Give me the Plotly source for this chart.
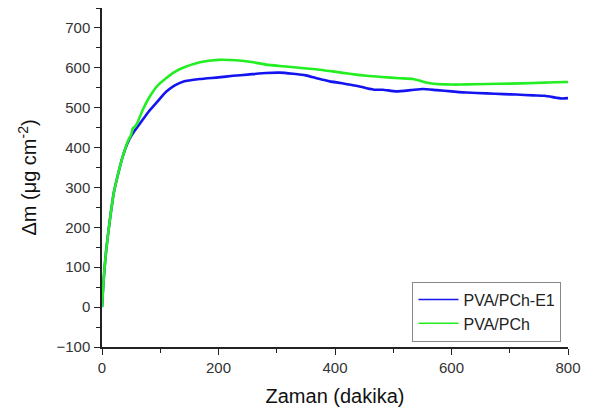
import plotly.graph_objects as go

# PVA/PCh-E1 (blue)
blue_x = [0, 2, 4, 7, 11, 15, 20, 27, 35, 45, 55, 65, 80, 95, 110, 125, 140, 168, 200, 225, 250, 282, 305, 328, 350, 368, 380, 391, 410, 425, 440, 454, 470, 482, 505, 530, 551, 575, 600, 626, 660, 690, 711, 740, 760, 780, 790, 800]
blue_y = [0, 50, 90, 140, 190, 235, 285, 330, 375, 415, 440, 460, 490, 515, 540, 556, 566, 572, 576, 580, 583, 587, 588, 585, 581, 574, 570, 566, 562, 558, 554, 549, 545, 545, 541, 544, 547, 544, 541, 538, 536, 534, 533, 531, 530, 525, 523, 524]

# PVA/PCh (green)
green_x = [0, 2, 4, 7, 11, 15, 20, 27, 35, 45, 50, 53, 55, 60, 70, 82, 95, 110, 125, 139, 168, 200, 230, 260, 282, 310, 339, 370, 396, 425, 454, 480, 511, 534, 545, 557, 570, 580, 600, 614, 640, 683, 720, 760, 797, 800]
green_y = [0, 50, 90, 140, 190, 235, 285, 330, 375, 418, 432, 449, 450, 460, 495, 528, 555, 574, 590, 600, 614, 620, 619, 614, 608, 604, 600, 596, 591, 585, 580, 577, 574, 572, 568, 563, 560, 559, 558, 558, 559, 560, 561, 563, 564.5, 564]

series_names = ["PVA/PCh-E1", "PVA/PCh"]
series_colors = ["#1414f0", "#22ee22"]
x_ticks = [0, 200, 400, 600, 800]
y_ticks = [-100, 0, 100, 200, 300, 400, 500, 600, 700]

FONT = "Arial, Liberation Sans, sans-serif"

fig = go.Figure()
fig.add_trace(go.Scatter(x=blue_x, y=blue_y, mode="lines", name=series_names[0], showlegend=False,
                         line=dict(color=series_colors[0], width=2.6, shape="spline", smoothing=0.5)))
fig.add_trace(go.Scatter(x=green_x, y=green_y, mode="lines", name=series_names[1], showlegend=False,
                         line=dict(color=series_colors[1], width=2.6, shape="spline", smoothing=0.5)))
# legend entries with thinner line samples
for name, col in zip(series_names, series_colors):
    fig.add_trace(go.Scatter(x=[None], y=[None], mode="lines", name=name,
                             line=dict(color=col, width=1.6)))

axis_common = dict(showgrid=False, zeroline=False, showline=True, linecolor="#222222",
                   linewidth=1.5, ticks="outside", ticklen=6, tickwidth=1.3, tickcolor="#222222",
                   automargin=False,
                   tickfont=dict(family=FONT, size=15, color="#333333"))

fig.update_layout(
    width=586, height=405,
    margin=dict(l=94, r=26, t=0, b=66),
    paper_bgcolor="white", plot_bgcolor="white",
    showlegend=True,
    legend=dict(x=0.986, y=0.016, xanchor="right", yanchor="bottom",
                bordercolor="#888888", borderwidth=1, bgcolor="white",
                font=dict(family=FONT, size=16, color="#222222"),
                itemwidth=40, tracegroupgap=0),
    xaxis=dict(range=[0, 800], tickvals=x_ticks,
               minor=dict(dtick=100, ticks="outside", ticklen=4, tickcolor="#222222", tickwidth=1.2),
               title=dict(text="Zaman (dakika)", font=dict(family=FONT, size=20, color="#111111"),
                          standoff=14),
               **axis_common),
    yaxis=dict(range=[-100, 750], tickvals=y_ticks, ticklabelstandoff=1,
               minor=dict(dtick=50, ticks="outside", ticklen=4, tickcolor="#222222", tickwidth=1.2),
               title=dict(text="Δm (μg cm<sup>-2</sup>)", font=dict(family=FONT, size=20, color="#111111"),
                          standoff=14),
               **axis_common),
)

fig.write_html("out.html")
